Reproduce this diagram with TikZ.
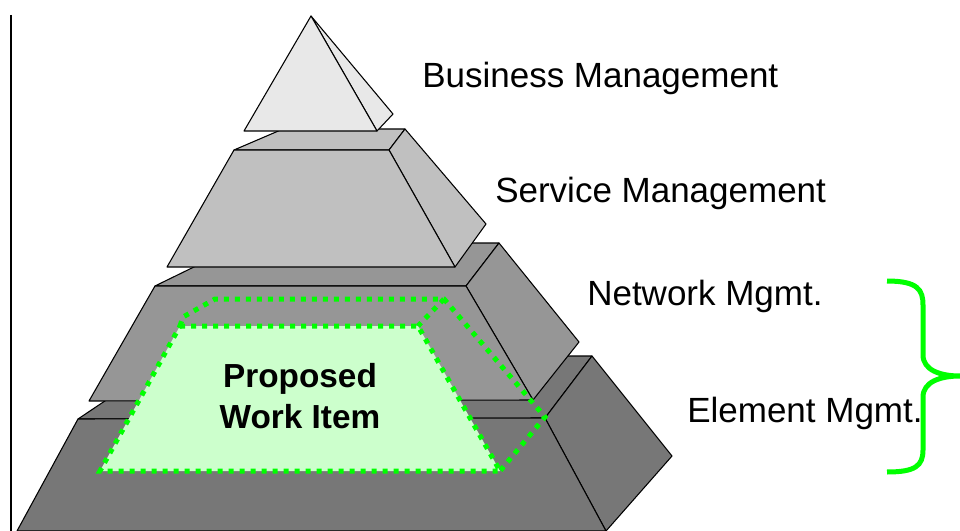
\documentclass[tikz,border=0pt]{standalone}
\usepackage[]{color}
\usepackage{tikz}
\usepackage{fontspec}
\setmainfont{Liberation Sans}

\definecolor{apexgray}{HTML}{E8E8E8}
\definecolor{servgray}{HTML}{C0C0C0}
\definecolor{netgray}{HTML}{969696}
\definecolor{elemgray}{HTML}{777777}
\definecolor{wigreen}{HTML}{00FF00}
\definecolor{wifill}{HTML}{CCFFCC}

\begin{document}
\begin{tikzpicture}[x = 0.75pt, y = -0.75pt,
  face/.style = {draw = black, line width = 0.8pt, line join = round},
  wiline/.style = {draw = wigreen, line width = 3.75pt, dash pattern = on 3.75pt off 4.5pt},
  lbl/.style = {anchor = base west, inner sep = 0pt, font = \fontsize{26.25}{31}\selectfont}]
\useasboundingbox (0, 0) rectangle (960, 531);
%\draw[very thin, color = gray](0, 0) grid[step = 50] (960, 531);
\draw [line width = 1.5pt] (11, 15) -- (11, 531);
% element layer
\fill [face, fill = elemgray] (78, 419) -- (172, 356) -- (592, 356) -- (545, 418) -- cycle;
\fill [face, fill = elemgray] (545, 418) -- (592, 356) -- (672, 456) -- (606, 531) -- cycle;
\fill [face, fill = elemgray] (78, 419) -- (545, 418) -- (606, 531) -- (17, 531) -- cycle;
% network layer
\fill [face, fill = netgray] (155, 286) -- (243, 243) -- (499, 243) -- (466, 286) -- cycle;
\fill [face, fill = netgray] (466, 286) -- (499, 243) -- (579, 342) -- (533, 400) -- cycle;
\fill [face, fill = netgray] (155, 286) -- (466, 286) -- (533, 400) -- (89, 401) -- cycle;
% service layer
\fill [face, fill = servgray] (234, 150) -- (283, 129) -- (405, 129) -- (389, 150) -- cycle;
\fill [face, fill = servgray] (389, 150) -- (405, 129) -- (486, 224) -- (455, 267) -- cycle;
\fill [face, fill = servgray] (234, 150) -- (389, 150) -- (455, 267) -- (167, 267) -- cycle;
% business layer
\fill [face, fill = apexgray] (311, 16) -- (377, 131) -- (393, 114) -- cycle;
\fill [face, fill = apexgray] (311, 16) -- (244, 131) -- (377, 131) -- cycle;
% proposed work item
\fill [fill = wifill] (180, 326) -- (418, 326) -- (500, 471) -- (100, 471) -- cycle;
\draw [wiline] (180, 326) -- (418, 326) -- (500, 471) -- (100, 471) -- cycle;
\draw [wiline] (180, 326) -- (183, 317) -- (215, 299) -- (444, 299) -- (545, 417) -- (500, 471);
\draw [wiline] (444, 299) -- (418, 326);
\node (prop) at (300, 387) [anchor = base, inner sep = 0pt, font = \fontsize{25}{30}\selectfont\bfseries] {Proposed};
\node (work) at (300, 428) [anchor = base, inner sep = 0pt, font = \fontsize{25}{30}\selectfont\bfseries] {Work Item};
% labels
\node (bizmgmt) at (422, 88) [lbl] {Business Management};
\node (servmgmt) at (495, 202) [lbl] {Service Management};
\node (netmgmt) at (587, 305) [lbl] {Network Mgmt.};
\node (elemmgmt) at (687, 422) [lbl] {Element Mgmt.};
% brace
\draw [wigreen, line width = 3.75pt] (887, 281) .. controls (918, 281) and (923, 290) .. (923, 305)
  -- (923, 355) .. controls (923, 370) and (940, 376) .. (960, 376)
  .. controls (940, 376) and (923, 382) .. (923, 397)
  -- (923, 450) .. controls (923, 466) and (915, 472) .. (887, 472);
\end{tikzpicture}
\end{document}
